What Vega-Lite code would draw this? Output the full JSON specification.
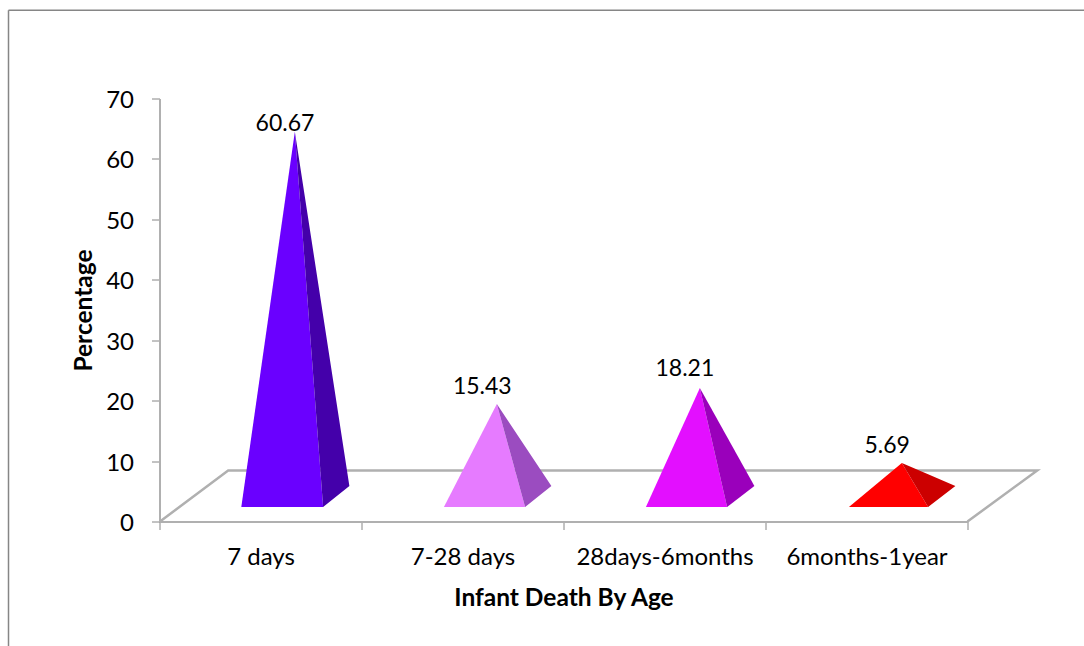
{"$schema":"https://vega.github.io/schema/vega-lite/v6.json","width":808,"height":423,"autosize":"none","padding":{"left":159.5,"top":98.5,"right":116.5,"bottom":124.5},"background":"white","config":{"view":{"stroke":null},"font":"Lato"},"datasets":{"frame":[{"x":-0.7475,"x2":4.6,"y":84.6,"y2":84.6},{"x":-0.7475,"x2":-0.7475,"y":84.6,"y2":-21}],"floor":[{"o":1,"x":0.0025,"y":0},{"o":2,"x":0.34,"y":8.44},{"o":3,"x":4.345,"y":8.44},{"o":4,"x":4.0,"y":0}],"faces":[{"f":"a1","x":0.405,"y":2.4,"y2":2.4},{"f":"a1","x":0.67,"y":64.5,"y2":2.4},{"f":"a1","x":0.81,"y":2.4,"y2":2.4},{"f":"a2","x":0.67,"y":64.5,"y2":64.5},{"f":"a2","x":0.81,"y":34.1,"y2":2.4},{"f":"a2","x":0.94,"y":5.88,"y2":5.88},{"f":"b1","x":1.408,"y":2.4,"y2":2.4},{"f":"b1","x":1.67,"y":19.45,"y2":2.4},{"f":"b1","x":1.81,"y":2.4,"y2":2.4},{"f":"b2","x":1.67,"y":19.45,"y2":19.45},{"f":"b2","x":1.81,"y":12.41,"y2":2.4},{"f":"b2","x":1.94,"y":5.88,"y2":5.88},{"f":"c1","x":2.408,"y":2.4,"y2":2.4},{"f":"c1","x":2.675,"y":22.1,"y2":2.4},{"f":"c1","x":2.81,"y":2.4,"y2":2.4},{"f":"c2","x":2.675,"y":22.1,"y2":22.1},{"f":"c2","x":2.81,"y":13.99,"y2":2.4},{"f":"c2","x":2.945,"y":5.88,"y2":5.88},{"f":"d1","x":3.413,"y":2.4,"y2":2.4},{"f":"d1","x":3.675,"y":9.69,"y2":2.4},{"f":"d1","x":3.805,"y":2.4,"y2":2.4},{"f":"d2","x":3.675,"y":9.69,"y2":9.69},{"f":"d2","x":3.805,"y":7.82,"y2":2.4},{"f":"d2","x":3.94,"y":5.88,"y2":5.88}],"labels":[{"value":"60.67","x":0.621,"y":65.8},{"value":"15.43","x":1.598,"y":22.3},{"value":"18.21","x":2.601,"y":25.2},{"value":"5.69","x":3.602,"y":12.5}]},"layer":[{"data":{"name":"frame"},"mark":{"type":"rule","color":"#868686","strokeWidth":1.5,"clip":false},"encoding":{"x":{"field":"x","type":"quantitative","scale":{"domain":[0,4],"nice":false,"zero":false},"axis":{"title":"Infant Death By Age","titleFontSize":24.5,"titleFontWeight":"bold","titleColor":"black","titlePadding":17,"values":[0,0.5,1,1.5,2,2.5,3,3.5,4],"grid":false,"labelExpr":"datum.value==0.5?'7 days':datum.value==1.5?'7-28 days':datum.value==2.5?'28days-6months':datum.value==3.5?'6months-1year':''","labelFontSize":24,"labelLimit":400,"labelColor":"black","labelPadding":16,"labelAngle":0,"labelOverlap":false,"labelFlush":false,"tickSize":8,"tickColor":"#868686","tickOpacity":{"condition":{"test":"datum.value%1==0","value":1},"value":0},"domainColor":"#b0b0b0","domainWidth":2}},"x2":{"field":"x2"},"y":{"field":"y","type":"quantitative","scale":{"domain":[0,70],"nice":false},"axis":{"title":"Percentage","titleFontSize":24.5,"titleFontWeight":"bold","titleColor":"black","titlePadding":9,"values":[0,10,20,30,40,50,60,70],"grid":false,"labelFontSize":24,"labelColor":"black","labelPadding":18,"labelOffset":2,"tickSize":8,"tickColor":"#868686","domainColor":"#b0b0b0","domainWidth":2}},"y2":{"field":"y2"}}},{"data":{"name":"floor"},"mark":{"type":"line","color":"#b0b0b0","strokeWidth":2.5,"clip":false},"encoding":{"x":{"field":"x","type":"quantitative"},"y":{"field":"y","type":"quantitative"},"order":{"field":"o"}}},{"data":{"name":"faces"},"mark":{"type":"area","clip":false,"opacity":1},"encoding":{"x":{"field":"x","type":"quantitative"},"y":{"field":"y","type":"quantitative"},"y2":{"field":"y2"},"color":{"field":"f","type":"nominal","legend":null,"scale":{"domain":["a1","a2","b1","b2","c1","c2","d1","d2"],"range":["#6a00ff","#4400aa","#e67bff","#9b4cc0","#e30fff","#9a00bb","#ff0000","#cc0000"]}}}},{"data":{"name":"labels"},"mark":{"type":"text","fontSize":23,"color":"black","align":"center","baseline":"middle"},"encoding":{"x":{"field":"x","type":"quantitative"},"y":{"field":"y","type":"quantitative"},"text":{"field":"value"}}}]}
